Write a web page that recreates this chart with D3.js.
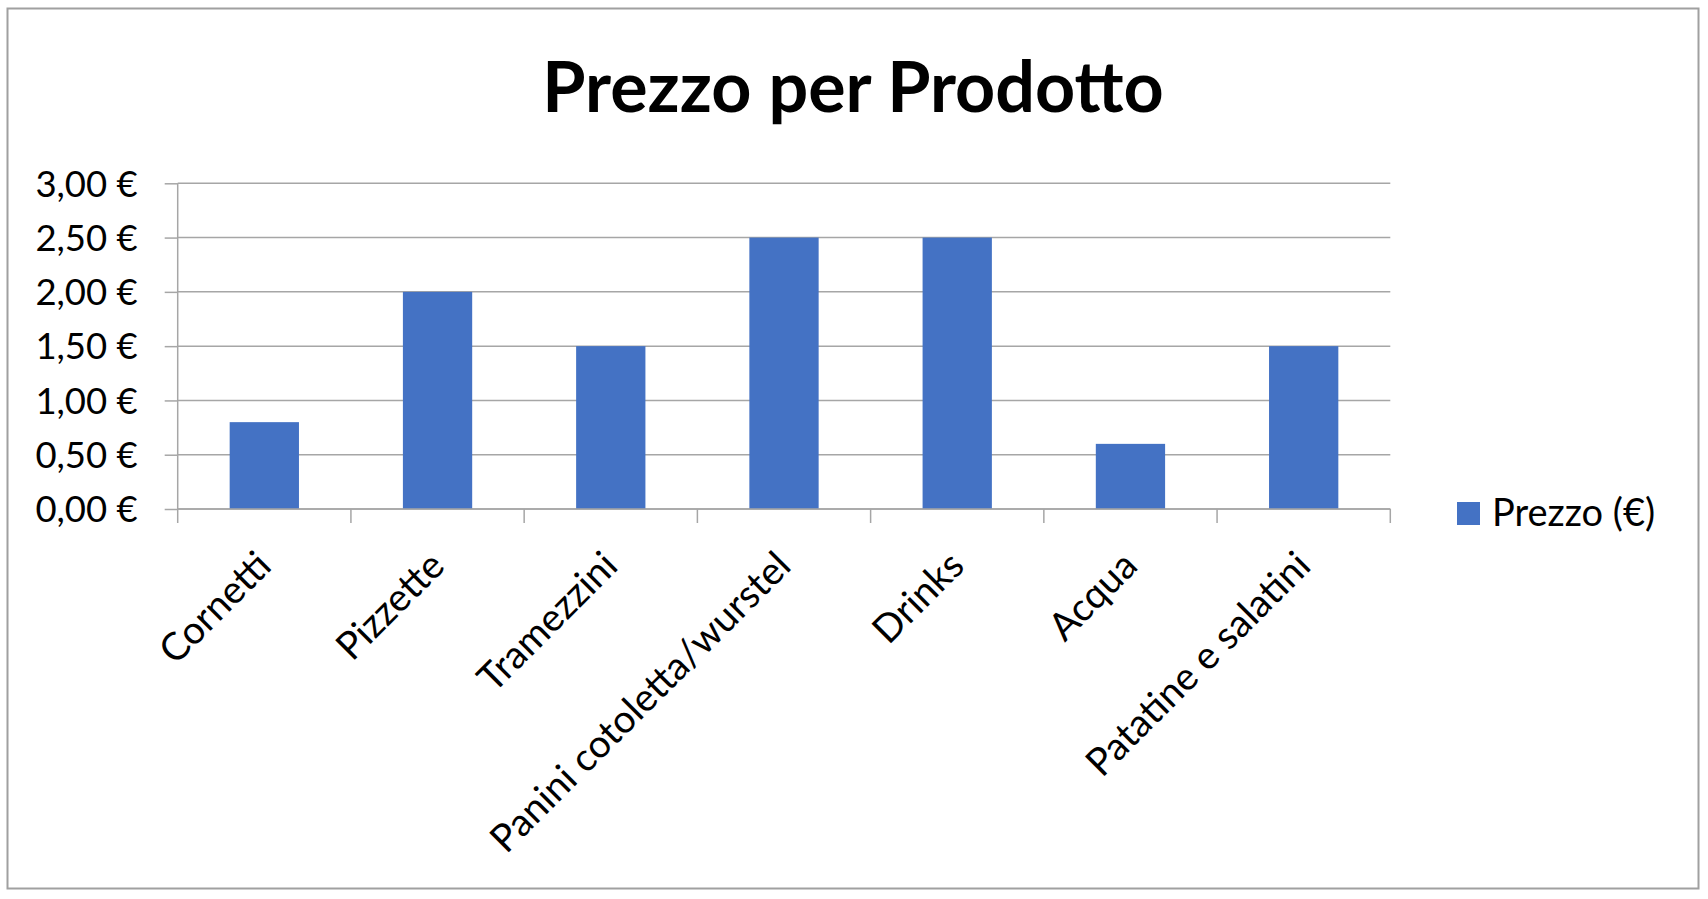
<!DOCTYPE html>
<html>
<head>
<meta charset="utf-8">
<script src="https://cdn.jsdelivr.net/npm/d3@7"></script>
<style>
  html, body { margin: 0; padding: 0; background: #fff; }
  svg { display: block; }
  text { font-family: Lato, "Open Sans", sans-serif; fill: #000; }
</style>
</head>
<body>
<svg id="chart" width="1708" height="899"></svg>
<script>
const categories = ["Cornetti", "Pizzette", "Tramezzini", "Panini cotoletta/wurstel", "Drinks", "Acqua", "Patatine e salatini"];
const prices = [0.80, 2.00, 1.50, 2.50, 2.50, 0.60, 1.50];
const yTicks = [0, 0.5, 1, 1.5, 2, 2.5, 3];
const seriesName = "Prezzo (€)";
const chartTitle = "Prezzo per Prodotto";

const svg = d3.select("#chart");
const m = { left: 177.7, right: 1390.3, top: 183.3, bottom: 509 };
const grey = "#a6a6a6";
const barColor = "#4472C4";

// chart border
svg.append("rect").attr("x", 7.5).attr("y", 8.5).attr("width", 1691).attr("height", 880)
  .attr("fill", "#fff").attr("stroke", "#a0a0a0").attr("stroke-width", 2);

// title
svg.append("text").attr("x", 853).attr("y", 111.5).attr("text-anchor", "middle")
  .attr("font-size", 70).attr("font-weight", 700).text(chartTitle);

const x = d3.scaleBand().domain(categories).range([m.left, m.right]).padding(0);
const y = d3.scaleLinear().domain([0, 3]).range([m.bottom, m.top]);

// y axis with ticks
const yAxis = d3.axisLeft(y).tickValues(yTicks).tickSize(13).tickPadding(27)
  .tickFormat(d => d3.format(".2f")(d).replace(".", ",") + " €");
const gy = svg.append("g").attr("transform", `translate(${m.left},0)`).call(yAxis);
gy.select(".domain").attr("stroke", grey).attr("stroke-width", 1.5).attr("d", `M0,${m.top}V${m.bottom}`);
gy.selectAll(".tick line").attr("stroke", grey).attr("stroke-width", 1.5);
gy.selectAll(".tick text").attr("font-size", 36.5).attr("dy", "0.35em")
  .style("font-family", "Lato, sans-serif").attr("fill", "#000");

// gridlines
svg.append("g").selectAll("line").data(yTicks).join("line")
  .attr("x1", m.left).attr("x2", m.right)
  .attr("y1", d => y(d)).attr("y2", d => y(d))
  .attr("stroke", grey).attr("stroke-width", 1.5);

// bars
const barW = x.bandwidth() * 0.4;
svg.append("g").selectAll("rect").data(categories).join("rect")
  .attr("x", d => x(d) + (x.bandwidth() - barW) / 2)
  .attr("width", barW)
  .attr("y", (d, i) => y(prices[i]))
  .attr("height", (d, i) => y(0) - y(prices[i]))
  .attr("fill", barColor);

// x axis line and ticks at category boundaries
const boundaries = categories.map(c => x(c)).concat([m.right]);
const gx = svg.append("g");
gx.append("line").attr("x1", m.left).attr("x2", m.right).attr("y1", m.bottom).attr("y2", m.bottom)
  .attr("stroke", grey).attr("stroke-width", 1.5);
gx.selectAll("line.tk").data(boundaries).join("line").attr("class", "tk")
  .attr("x1", d => d).attr("x2", d => d).attr("y1", m.bottom).attr("y2", m.bottom + 14)
  .attr("stroke", grey).attr("stroke-width", 1.5);

// x labels rotated
gx.selectAll("text.lbl").data(categories).join("text").attr("class", "lbl")
  .attr("text-anchor", "end").attr("font-size", 38.5)
  .attr("transform", d => `translate(${x(d) + x.bandwidth() / 2 + 9},${m.bottom + 59}) rotate(-45)`)
  .text(d => d);

// legend
const lg = svg.append("g");
lg.append("rect").attr("x", 1457).attr("y", 502).attr("width", 23).attr("height", 23).attr("fill", barColor);
lg.append("text").attr("x", 1492).attr("y", 526).attr("font-size", 38).text(seriesName);
</script>
</body>
</html>
